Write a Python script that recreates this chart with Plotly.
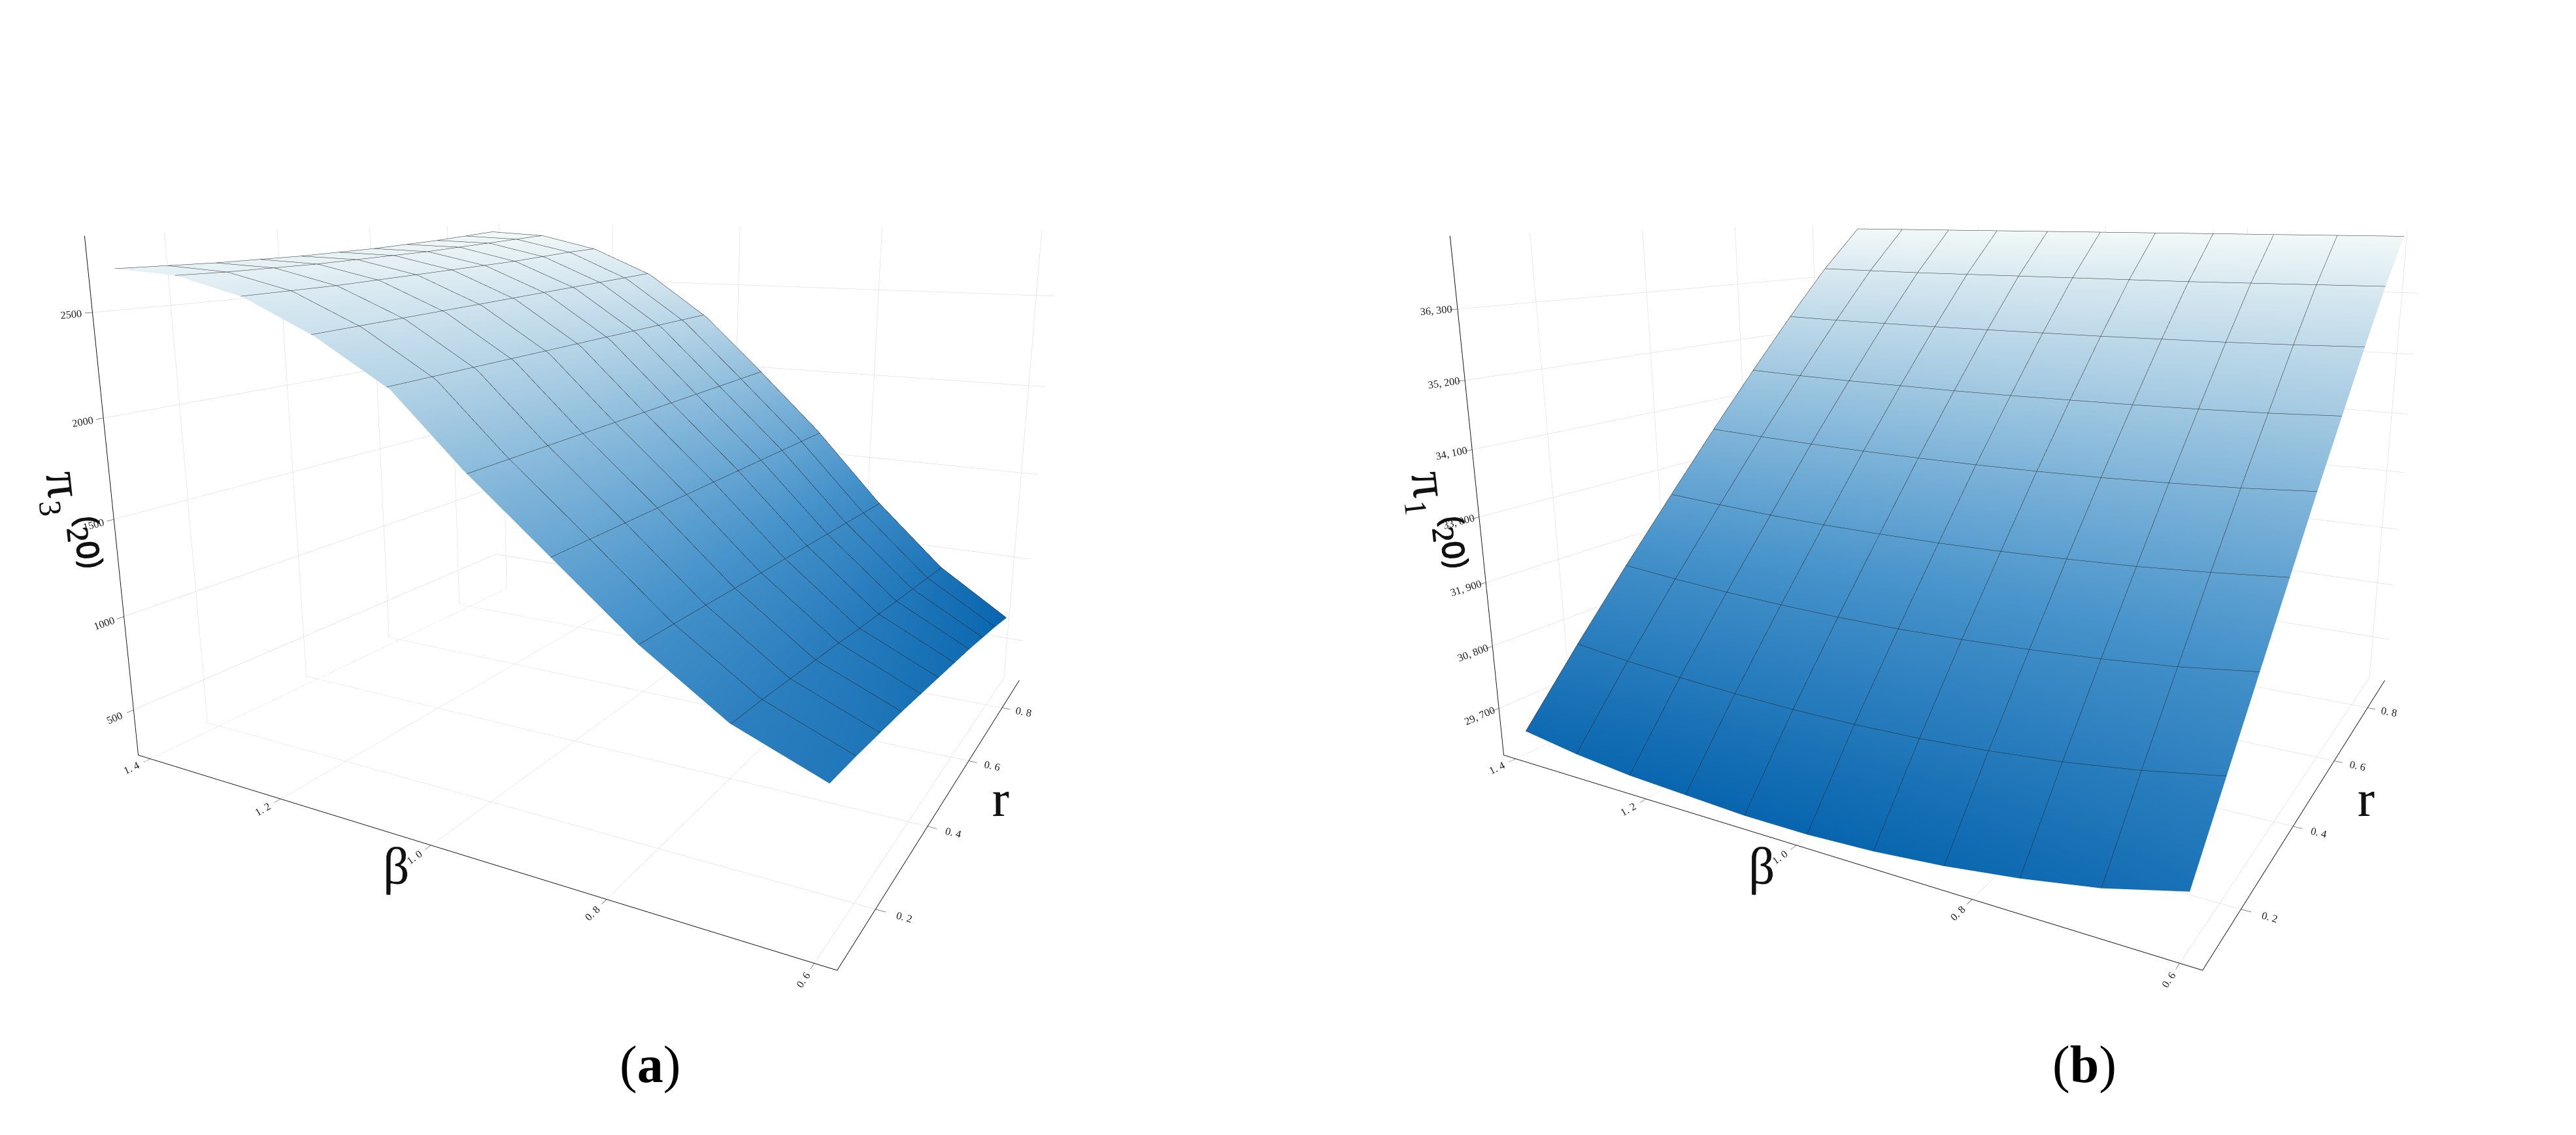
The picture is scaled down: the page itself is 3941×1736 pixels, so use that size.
import plotly.graph_objects as go

r_vals = [0.1, 0.18, 0.26, 0.34, 0.42, 0.5, 0.58, 0.66, 0.74, 0.82, 0.9]
beta_a = [0.6, 0.69, 0.78, 0.87, 0.96, 1.04, 1.13, 1.22, 1.31, 1.4]
# rows: beta (ascending), cols: r
z_a = [
    [950, 930, 905, 880, 850, 820, 790, 760, 725, 690, 650],
    [1100, 1085, 1065, 1045, 1025, 1000, 980, 960, 940, 920, 900],
    [1350, 1340, 1330, 1320, 1310, 1300, 1290, 1280, 1270, 1260, 1250],
    [1650, 1650, 1650, 1650, 1650, 1650, 1650, 1650, 1650, 1650, 1650],
    [1950, 1955, 1960, 1965, 1970, 1975, 1980, 1985, 1990, 1995, 2000],
    [2250, 2255, 2260, 2265, 2270, 2275, 2280, 2285, 2290, 2295, 2300],
    [2450, 2460, 2470, 2480, 2490, 2500, 2510, 2520, 2530, 2540, 2550],
    [2600, 2605, 2610, 2620, 2630, 2640, 2650, 2660, 2675, 2690, 2700],
    [2680, 2680, 2685, 2690, 2700, 2710, 2720, 2735, 2750, 2765, 2780],
    [2700, 2700, 2700, 2705, 2710, 2720, 2730, 2745, 2760, 2780, 2800],
]

r_b = [0.1, 0.2, 0.3, 0.4, 0.5, 0.6, 0.7, 0.8, 0.9]
beta_b = [0.6, 0.68, 0.76, 0.84, 0.92, 1.0, 1.08, 1.16, 1.24, 1.32, 1.4]
# rows: r, cols: beta
z_b_by_r = [
    [29700, 29400, 29200, 29050, 28950, 28900, 28900, 28950, 29000, 29100, 29250],
    [30700, 30500, 30350, 30250, 30180, 30150, 30150, 30180, 30230, 30300, 30400],
    [31700, 31550, 31450, 31380, 31330, 31300, 31300, 31320, 31360, 31420, 31500],
    [32700, 32600, 32520, 32470, 32430, 32410, 32410, 32420, 32450, 32500, 32560],
    [33700, 33620, 33570, 33530, 33510, 33500, 33500, 33510, 33530, 33560, 33600],
    [34650, 34600, 34570, 34550, 34540, 34530, 34530, 34540, 34550, 34570, 34600],
    [35600, 35570, 35550, 35540, 35530, 35530, 35530, 35530, 35540, 35550, 35570],
    [36500, 36490, 36480, 36470, 36470, 36470, 36470, 36470, 36470, 36480, 36490],
    [37300, 37300, 37300, 37300, 37300, 37300, 37300, 37300, 37300, 37300, 37300],
]
z_b = [list(row) for row in zip(*z_b_by_r)]  # rows: beta, cols: r

beta_ticks = [0.6, 0.8, 1.0, 1.2, 1.4]
beta_ticktext = ["0. 6", "0. 8", "1. 0", "1. 2", "1. 4"]
r_ticks = [0.2, 0.4, 0.6, 0.8]
r_ticktext = ["0. 2", "0. 4", "0. 6", "0. 8"]
za_ticks = [500, 1000, 1500, 2000, 2500]
zb_ticks = [29700, 30800, 31900, 33000, 34100, 35200, 36300]
zb_ticktext = ["29, 700", "30, 800", "31, 900", "33, 000", "34, 100", "35, 200", "36, 300"]

cscale = [[0, '#0865ae'], [0.35, '#4793cb'], [0.7, '#a8cce3'], [1, '#f1f8f8']]
FONT = "Liberation Serif"
tickfont = dict(family=FONT, size=14, color="#222")
titlefont = dict(family=FONT, size=80, color="#111")


def surf(x, y, z, scene):
    xs = (x[-1] - x[0]) / (len(x) - 1)
    ys = (y[-1] - y[0]) / (len(y) - 1)
    return go.Surface(
        x=x, y=y, z=z, scene=scene, colorscale=cscale, showscale=False,
        lighting=dict(ambient=1, diffuse=0, specular=0, roughness=1, fresnel=0),
        contours=dict(
            x=dict(show=True, start=x[0] - 1e-6, end=x[-1] + 1e-6, size=xs, color="#222", width=1, highlight=False),
            y=dict(show=True, start=y[0] - 1e-6, end=y[-1] + 1e-6, size=ys, color="#222", width=1, highlight=False),
            z=dict(highlight=False),
        ),
        hoverinfo="skip",
    )


def ax(title, tv, tt, rng):
    d = dict(title=dict(text=title, font=titlefont), tickvals=tv, range=rng,
             tickfont=tickfont, showbackground=False, gridcolor="#d4d4d4", gridwidth=1,
             showline=True, linecolor="#111", linewidth=2, ticks="outside", ticklen=10,
             tickcolor="#111", zeroline=False, showspikes=False)
    if tt is not None:
        d["ticktext"] = tt
    return d


fig = go.Figure()
fig.add_trace(surf(r_vals, beta_a, z_a, "scene"))
fig.add_trace(surf(r_b, beta_b, z_b, "scene2"))

cam = dict(eye=dict(x=-1.7, y=-0.95, z=0.45), center=dict(x=0, y=0, z=-0.05))
common = dict(aspectmode="manual", aspectratio=dict(x=1, y=1.15, z=0.8), camera=cam)

fig.update_layout(
    width=3941, height=1736, paper_bgcolor="white", margin=dict(l=0, r=0, t=0, b=0),
    scene=dict(domain=dict(x=[0.0, 0.47], y=[0.1, 1.0]),
               xaxis=ax("r", r_ticks, r_ticktext, [0.08, 0.92]),
               yaxis=ax("β", beta_ticks, beta_ticktext, [0.58, 1.42]),
               zaxis=ax("π₃⁽²⁰⁾", za_ticks, None, [250, 2850]), **common),
    scene2=dict(domain=dict(x=[0.53, 1.0], y=[0.1, 1.0]),
                xaxis=ax("r", r_ticks, r_ticktext, [0.08, 0.92]),
                yaxis=ax("β", beta_ticks, beta_ticktext, [0.58, 1.42]),
                zaxis=ax("π₁⁽²⁰⁾", zb_ticks, zb_ticktext, [28850, 37400]), **common),
    annotations=[
        dict(text="(<b>a</b>)", x=0.238, y=0.04, xref="paper", yref="paper", showarrow=False,
             font=dict(family=FONT, size=80, color="#000")),
        dict(text="(<b>b</b>)", x=0.82, y=0.04, xref="paper", yref="paper", showarrow=False,
             font=dict(family=FONT, size=80, color="#000")),
    ],
)

fig.write_html("out.html")
